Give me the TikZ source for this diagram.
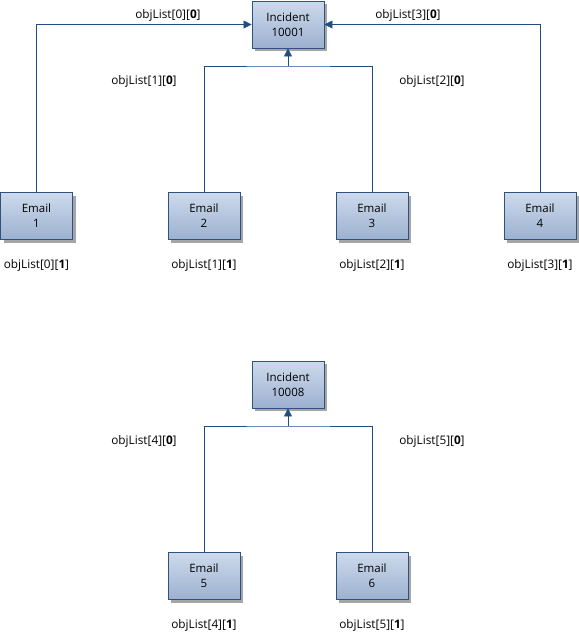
\documentclass[tikz,border=0pt]{standalone}
\usepackage{fontspec}
\setmainfont{Open Sans}
\usetikzlibrary{shadows,arrows.meta}
\definecolor{boxline}{HTML}{2E5182}
\definecolor{boxtop}{HTML}{CDDAEB}
\definecolor{boxbot}{HTML}{9CB1D0}
\definecolor{wire}{HTML}{1F4E85}
\tikzset{
  itembox/.style={draw=boxline, line width=0.9pt, top color=boxtop, bottom color=boxbot,
    minimum width=72pt, minimum height=47pt, align=center, inner sep=0pt,
    font=\fontsize{11.5}{15}\selectfont,
    drop shadow={shadow xshift=3pt, shadow yshift=-3pt, fill=black!50, opacity=0.7}},
  idx/.style={font=\fontsize{11.8}{13}\selectfont, inner sep=0pt},
  wire/.style={draw=wire, line width=0.8pt, -{Triangle[length=8pt,width=8pt]}}
}
\begin{document}
\begin{tikzpicture}[x=1pt, y=-1pt]
  \useasboundingbox (0,0) rectangle (579,633);
  % first incident
  \node[itembox] (inc1) at (288,24.5) {Incident\\10001};
  \foreach \i/\x/\n in {1/36.5/0,2/204/1,3/372/2,4/540/3} {
    \node[itembox] (e\i) at (\x,216) {Email\\\i};
    \node[idx] (b\i) at (\x,265) {objList[\n][\textbf{1}]};
  }
  \node[idx] (t0) at (168,15) {objList[0][\textbf{0}]};
  \node[idx] (t3) at (408,15) {objList[3][\textbf{0}]};
  \node[idx] (t1) at (144,81) {objList[1][\textbf{0}]};
  \node[idx] (t2) at (432,81) {objList[2][\textbf{0}]};
  \coordinate (j1) at (288,66);
  \draw[wire] (e1.north) |- (inc1.west);
  \draw[wire] (e4.north) |- (inc1.east);
  \draw[wire,-] (e2.north) |- (j1) -| (e3.north);
  \draw[wire] (j1) -- (inc1.south);
  % second incident
  \node[itembox] (inc2) at (288,384.5) {Incident\\10008};
  \foreach \i/\x/\n in {5/204/4,6/372/5} {
    \node[itembox] (e\i) at (\x,576) {Email\\\i};
    \node[idx] (b\i) at (\x,625) {objList[\n][\textbf{1}]};
  }
  \node[idx] (t4) at (144,441) {objList[4][\textbf{0}]};
  \node[idx] (t5) at (432,441) {objList[5][\textbf{0}]};
  \coordinate (j2) at (288,426);
  \draw[wire,-] (e5.north) |- (j2) -| (e6.north);
  \draw[wire] (j2) -- (inc2.south);
\end{tikzpicture}
\end{document}
